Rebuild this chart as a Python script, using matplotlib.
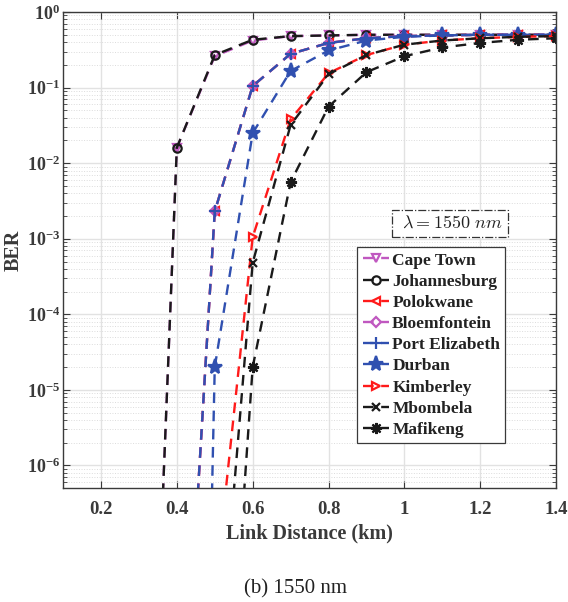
import numpy as np
import matplotlib
matplotlib.use("Agg")
import matplotlib.pyplot as plt
from matplotlib.ticker import LogLocator, NullFormatter, FixedLocator

# link distance (km); leading points fall below the plotted BER range
distance = [0.3, 0.4, 0.5, 0.6, 0.7, 0.8, 0.9, 1.0, 1.1, 1.2, 1.3, 1.4]
nan = np.nan

cape_town = [5e-15, 0.016, 0.26, 0.42, 0.48, 0.49, 0.50, 0.50, 0.50, 0.50, 0.50, 0.50]
johannesburg = [5e-15, 0.016, 0.27, 0.43, 0.48, 0.49, 0.50, 0.50, 0.50, 0.50, 0.50, 0.50]
polokwane = [nan, 1e-11, 2.3e-3, 0.105, 0.28, 0.39, 0.45, 0.48, 0.49, 0.50, 0.50, 0.50]
bloemfontein = [nan, 1e-11, 2.3e-3, 0.105, 0.28, 0.39, 0.45, 0.48, 0.49, 0.50, 0.50, 0.50]
port_elizabeth = [nan, 1e-11, 2.3e-3, 0.105, 0.28, 0.39, 0.45, 0.48, 0.49, 0.50, 0.50, 0.50]
durban = [nan, 2e-28, 2e-5, 0.025, 0.166, 0.31, 0.42, 0.47, 0.49, 0.50, 0.50, 0.50]
kimberley = [nan, nan, 2e-8, 1.05e-3, 0.038, 0.155, 0.27, 0.37, 0.42, 0.45, 0.47, 0.48]
mbombela = [nan, nan, 4e-10, 4.8e-4, 0.032, 0.15, 0.27, 0.37, 0.42, 0.45, 0.47, 0.48]
mafikeng = [nan, nan, 1e-12, 2.0e-5, 5.6e-3, 0.056, 0.16, 0.26, 0.34, 0.39, 0.43, 0.45]

x_ticks = [0.2, 0.4, 0.6, 0.8, 1.0, 1.2, 1.4]
x_tick_labels = ["0.2", "0.4", "0.6", "0.8", "1", "1.2", "1.4"]
y_exponents = [0, -1, -2, -3, -4, -5, -6]

MAGENTA = "#c058c0"
BLACK = "#1a1a1a"
RED = "#ff1a1a"
BLUE = "#3050b0"
TXT = "#3a3a3a"

plt.rcParams["font.family"] = ["Liberation Serif", "DejaVu Serif"]
plt.rcParams["mathtext.fontset"] = "custom"
plt.rcParams["mathtext.rm"] = "Liberation Serif:bold"
plt.rcParams["mathtext.bf"] = "Liberation Serif:bold"
plt.rcParams["mathtext.default"] = "bf"

fig = plt.figure(figsize=(5.68, 6.02), dpi=100)
ax = fig.add_axes([0.111, 0.189, 0.868, 0.791])

series = [
    ("Cape Town", cape_town, MAGENTA, "v", 6, "none"),
    ("Johannesburg", johannesburg, BLACK, "o", 6, "none"),
    ("Polokwane", polokwane, RED, "<", 6, "none"),
    ("Bloemfontein", bloemfontein, MAGENTA, "D", 5, "none"),
    ("Port Elizabeth", port_elizabeth, BLUE, "+", 8, None),
    ("Durban", durban, BLUE, "*", 11, None),
    ("Kimberley", kimberley, RED, ">", 6, "none"),
    ("Mbombela", mbombela, BLACK, "x", 6, None),
    ("Mafikeng", mafikeng, BLACK, (8, 2, 0), 8, None),
]

for name, vals, col, mk, ms, mfc in series:
    kw = dict(color=col, marker=mk, markersize=ms, linewidth=1.7,
              linestyle=(0, (4.5, 3.2)), markeredgewidth=1.6, label=name)
    if mfc is not None:
        kw["markerfacecolor"] = mfc
    ax.semilogy(distance, vals, **kw)

ax.set_xlim(0.1, 1.4)
ax.set_ylim(5e-7, 1)
ax.xaxis.set_major_locator(FixedLocator(x_ticks))
ax.set_xticklabels(x_tick_labels)
ax.yaxis.set_major_locator(FixedLocator([10.0 ** e for e in y_exponents]))
ax.set_yticklabels([r"$10^{%d}$" % e for e in y_exponents])
ax.yaxis.set_minor_locator(LogLocator(base=10, subs=np.arange(2, 10), numticks=20))
ax.yaxis.set_minor_formatter(NullFormatter())

ax.grid(True, which="major", color="#e2e2e2", linewidth=1.0)
ax.grid(True, which="minor", axis="y", color="#dcdcdc", linestyle=":", linewidth=0.7)
ax.set_axisbelow(True)

ax.tick_params(axis="both", which="both", direction="in", top=True, right=True,
               colors=TXT)
ax.tick_params(axis="x", which="major", length=5, pad=9, labelsize=13.5)
ax.tick_params(axis="y", which="major", length=5, pad=2, labelsize=13)
ax.tick_params(axis="y", which="minor", length=3)
for lbl in ax.get_xticklabels() + ax.get_yticklabels():
    lbl.set_fontweight("bold")
for sp in ax.spines.values():
    sp.set_color(TXT)
    sp.set_linewidth(1.0)

ax.set_xlabel("Link Distance (km)", fontsize=14.5, fontweight="bold", color=TXT, labelpad=4)
ax.set_ylabel("BER", fontsize=14.5, fontweight="bold", color=TXT)
ax.yaxis.set_label_coords(-0.08, 0.5)

leg = ax.legend(loc="lower right", bbox_to_anchor=(0.897, 0.0945),
                prop={"weight": "bold", "size": 12.5}, frameon=True, fancybox=False,
                handlelength=1.5, handletextpad=0.2, labelspacing=0.29,
                borderpad=0.3, borderaxespad=0.0)
leg.get_frame().set_edgecolor(TXT)
leg.get_frame().set_linewidth(0.9)
leg.get_frame().set_alpha(1.0)
for t in leg.get_texts():
    t.set_color("#222222")

ax.text(0.785, 0.556, r"$\ \lambda = \mathrm{1550}\ \mathit{nm}\ $", transform=ax.transAxes,
        fontsize=13, ha="center", va="center", color="#222222", math_fontfamily="cm",
        bbox=dict(boxstyle="square,pad=0.3", facecolor="white",
                  edgecolor="#333333", linestyle="-.", linewidth=0.9))

fig.text(0.52, 0.006, "(b) 1550 nm", ha="center", va="bottom", fontsize=15, color="#222222")

fig.savefig("out.png", dpi=100)
